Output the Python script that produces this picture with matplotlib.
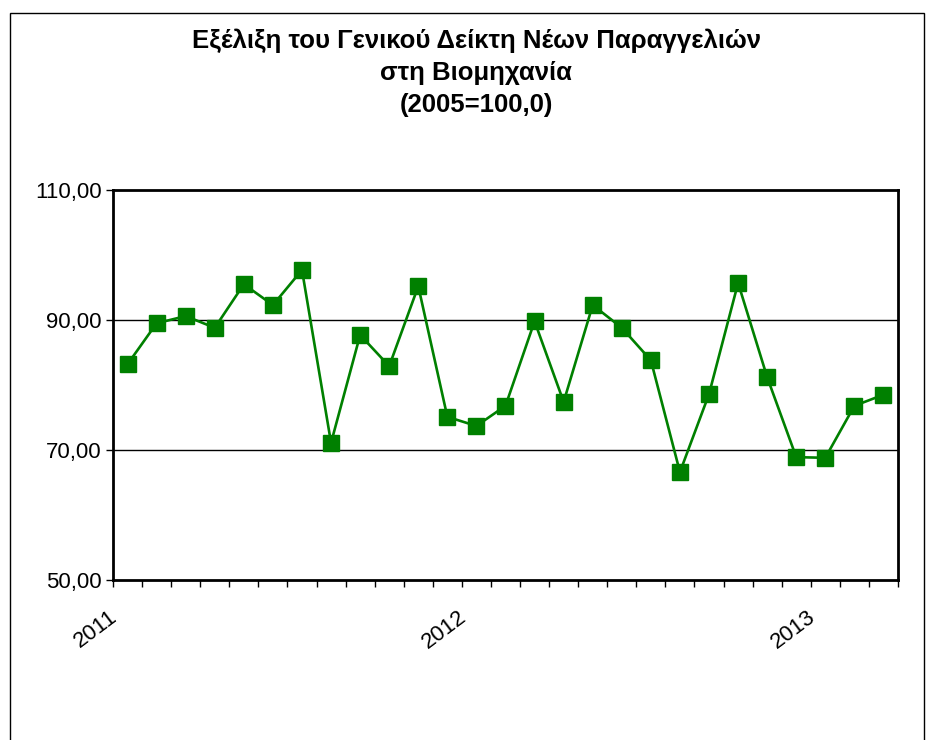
# Index of new orders in industry, monthly 2011-2013

import matplotlib.pyplot as plt
import matplotlib.patches as patches
from matplotlib.transforms import ScaledTranslation

plt.rcParams['font.family'] = ['Liberation Sans', 'DejaVu Sans']

title_lines = ["Εξέλιξη του Γενικού Δείκτη Νέων Παραγγελιών",
               "στη Βιομηχανία",
               "(2005=100,0)"]

values = [83.2, 89.5, 90.6, 88.8, 95.5, 92.3, 97.7, 71.1, 87.7, 82.9,
          95.2, 75.1, 73.7, 76.8, 89.8, 77.4, 92.3, 88.8, 83.8, 66.6,
          78.6, 95.7, 81.2, 68.9, 68.8, 76.8, 78.5]
year_pos = [0, 12, 24]
year_labels = ["2011", "2012", "2013"]
y_ticks = [50, 70, 90, 110]
y_labels = ["50,00", "70,00", "90,00", "110,00"]

fig = plt.figure(figsize=(9.28, 7.4), dpi=100)
ax = fig.add_axes([113/928, 160/740, 785/928, 390/740])

x = range(len(values))
ax.plot(x, values, color='#008000', lw=1.9, marker='s', ms=11,
        mfc='#008000', mec='#008000', zorder=3)

ax.set_xlim(-0.5, len(values) - 0.5)
ax.set_ylim(50, 110)

ax.set_yticks(y_ticks)
ax.set_yticklabels(y_labels, fontsize=16)
ax.tick_params(axis='y', direction='out', length=5, width=1, pad=3)

# tick marks between months, year labels under the first month
ax.set_xticks([i - 0.5 for i in range(len(values) + 1)])
ax.set_xticklabels([])
ax.tick_params(axis='x', which='major', direction='out', length=5, width=1)
ax.set_xticks(year_pos, minor=True)
ax.set_xticklabels(year_labels, minor=True, fontsize=16, rotation=37,
                   ha='right', va='top')
ax.tick_params(axis='x', which='minor', length=0, pad=19)
for lab in ax.get_xticklabels(minor=True):
    lab.set_transform(lab.get_transform() +
                      ScaledTranslation(-6/100, 0, fig.dpi_scale_trans))

for v in [70, 90]:
    ax.axhline(v, color='black', lw=1, zorder=1)

for s in ax.spines.values():
    s.set_linewidth(2)

for i, line in enumerate(title_lines):
    fig.text(476/928, 1 - (41 + 32*i)/740, line, ha='center', va='center',
             fontsize=18.5, fontweight='bold')

frame = patches.Rectangle((10/928, -0.1), 914/928, 1.1 - 13/740,
                          transform=fig.transFigure, fill=False,
                          edgecolor='black', lw=1)
fig.patches.append(frame)

fig.savefig('out.png', dpi=100)
